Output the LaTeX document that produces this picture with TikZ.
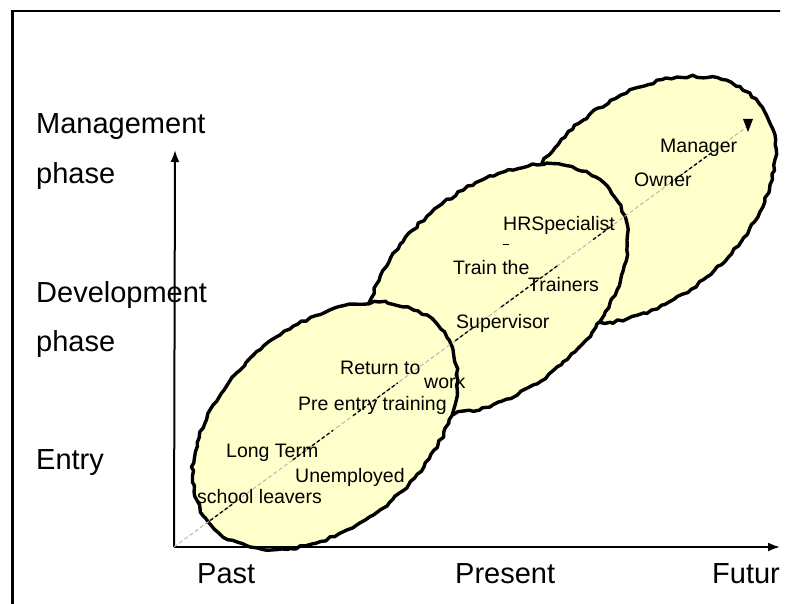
\documentclass[tikz,border=0pt]{standalone}
\usepackage{fontspec}
\setmainfont{Liberation Sans}
\usetikzlibrary{arrows.meta,decorations.pathmorphing,calc}
\definecolor{blob}{HTML}{FFFFCC}
\definecolor{lgray}{HTML}{B8B8B8}
\begin{document}
\begin{tikzpicture}[x=1pt,y=-1pt,
  bigl/.style={font=\fontsize{29}{34}\selectfont, anchor=base west, inner sep=0pt},
  smalll/.style={font=\fontsize{19.5}{23}\selectfont, anchor=base west, inner sep=0pt},
  blobsty/.style={fill=blob, draw=black, line width=3.4pt, line join=round,
    decorate, decoration={random steps, segment length=5pt, amplitude=1.4pt}},
  axissty/.style={line width=2pt, -{Latex[length=12pt,width=9pt]}},
  graydash/.style={draw=lgray, line width=1pt, dash pattern=on 4pt off 2.5pt},
  blackdash/.style={draw=black, line width=1.3pt, dash pattern=on 3.5pt off 2.5pt}]
\pgfmathsetseed{11}
\useasboundingbox (0,0) rectangle (794,604);
\clip (0,0) rectangle (780,604);
% frame
\draw[line width=2.5pt] (12.5,620) -- (12.5,11) -- (800,11);
% blobs (back to front)
\begin{scope}[shift={(643,200)},rotate=40]
  \path[blobsty] (0,0) ellipse [x radius=151, y radius=100];
\end{scope}
\begin{scope}[shift={(496,289)},rotate=41]
  \path[blobsty] (0,0) ellipse [x radius=151, y radius=100];
\end{scope}
\begin{scope}[shift={(325,426)},rotate=40]
  \path[blobsty] (0,0) ellipse [x radius=151, y radius=100];
\end{scope}
% axes
\coordinate (O) at (174,547);
\coordinate (Ytop) at (175,150);
\coordinate (Xend) at (780,547);
\draw[axissty] (O) -- (Ytop);
\draw[axissty] (O) -- (Xend);
% diagonal dashed line
\coordinate (d0) at (174,547);
\coordinate (d1) at (748,126);
\draw[graydash] (d0) -- (d1);
\foreach \a/\b in {0.063/0.101, 0.207/0.277, 0.312/0.39, 0.49/0.52, 0.57/0.67, 0.73/0.765, 0.864/0.94}
  \draw[blackdash] ($(d0)!\a!(d1)$) -- ($(d0)!\b!(d1)$);
\fill (743,119) -- (753,119) -- (748,132) -- cycle;
\draw[line width=1pt] (503,244) -- (509,244);
% left labels
\node[bigl] (lm1) at (36,134) {Management};
\node[bigl] (lm2) at (36,183) {phase};
\node[bigl] (ld1) at (36,302) {Development};
\node[bigl] (ld2) at (36,351) {phase};
\node[bigl] (le) at (36,469) {Entry};
% bottom labels
\node[bigl] (past) at (197,583) {Past};
\node[bigl] (present) at (455,583) {Present};
\node[bigl] (future) at (712,583) {Futur};
% inner labels
\node[smalll] (t1) at (660,153) {Manager};
\node[smalll] (t2) at (634,186) {Owner};
\node[smalll] (t3) at (503,230) {HRSpecialist};
\node[smalll] (t4) at (453,274) {Train the};
\node[smalll] (t5) at (528,291) {Trainers};
\node[smalll] (t6) at (456,328) {Supervisor};
\node[smalll] (t7) at (340,374) {Return to};
\node[smalll] (t8) at (424,388) {work};
\node[smalll] (t9) at (298,410) {Pre entry training};
\node[smalll] (t10) at (226,457) {Long Term};
\node[smalll] (t11) at (295,482) {Unemployed};
\node[smalll] (t12) at (197,503) {school leavers};
\end{tikzpicture}
\end{document}
